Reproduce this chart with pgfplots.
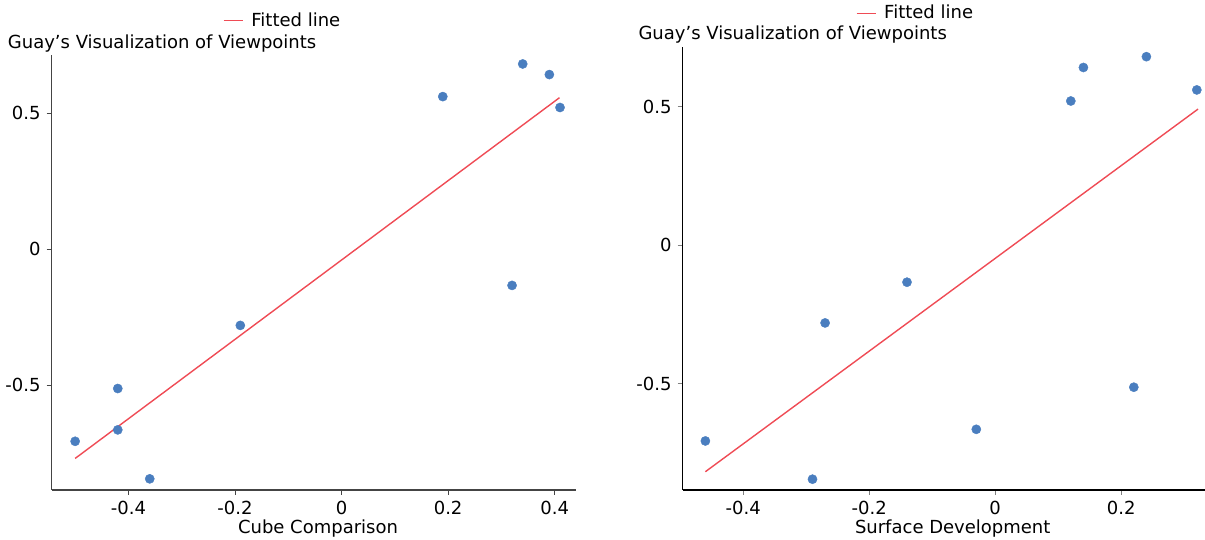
\documentclass[border=0pt]{standalone}
\usepackage{fontspec}
\setmainfont{DejaVu Sans}
\usepackage{pgfplots}
\pgfplotsset{compat=1.18}
\definecolor{ptblue}{HTML}{4A7EBF}
\definecolor{fitred}{HTML}{EF4B55}
\definecolor{axgray}{HTML}{444444}
\begin{document}
\fontsize{18}{21}\selectfont
\begin{tikzpicture}
\useasboundingbox (0,0) rectangle (1205pt,540pt);
\pgfplotsset{
  myax/.style={
    scale only axis,
    anchor=south west,
    axis lines*=left,
    axis line style={-, line width=1.2pt},
    tick align=outside,
    major tick length=5pt,
    tick style={line width=0.8pt},
    ticklabel style={font=\fontsize{18}{21}\selectfont},
    label style={font=\fontsize{18}{21}\selectfont},
    ytick={-0.5,0,0.5},
    yticklabels={-0.5,0,0.5},
    clip=false,
    legend image code/.code={\draw[#1] (0pt,0pt) -- (19pt,0pt);},
    legend style={draw=none, fill=none, inner sep=0pt, outer sep=0pt,
      font=\fontsize{18}{21}\selectfont,
      /tikz/every odd column/.append style={column sep=6pt}},
  },
  pts/.style={only marks, mark=*, mark size=4.6pt, color=ptblue, mark options={draw=ptblue, fill=ptblue}},
  fit/.style={no marks, color=fitred, line width=1.4pt},
}
% Left panel
\begin{axis}[myax,
  at={(51.7pt,50pt)}, width=524.3pt, height=435pt,
  xmin=-0.544, xmax=0.44, ymin=-0.886, ymax=0.713,
  axis line style={-, line width=1.5pt, draw=axgray},
  tick style={draw=axgray},
  xtick={-0.4,-0.2,0,0.2,0.4},
  xticklabels={-0.4,-0.2,0,0.2,0.4},
  xlabel={Cube Comparison},
  xlabel style={at={(axis description cs:0.508,-0.1)}, anchor=base},
  legend style={at={(axis description cs:0.3267,1.079)}, anchor=west},
]
\addplot[pts, forget plot] coordinates {
(-0.50,-0.707) (-0.42,-0.513) (-0.42,-0.665) (-0.36,-0.845) (-0.19,-0.281)
(0.32,-0.134) (0.19,0.56) (0.34,0.68) (0.39,0.641) (0.41,0.52)
};
\addplot[fit] coordinates {(-0.50,-0.770) (0.409,0.556)};
\addlegendentry{Fitted line}
\end{axis}
% Right panel
\begin{axis}[myax,
  at={(682.7pt,50pt)}, width=522.3pt, height=443.3pt,
  xmin=-0.496, xmax=0.333, ymin=-0.884, ymax=0.716,
  axis line style={-, line width=1.2pt, draw=black},
  xtick={-0.4,-0.2,0,0.2},
  xticklabels={-0.4,-0.2,0,0.2},
  xlabel={Surface Development},
  xlabel style={at={(axis description cs:0.517,-0.098)}, anchor=base},
  legend style={at={(axis description cs:0.3315,1.0752)}, anchor=west},
]
\addplot[pts, forget plot] coordinates {
(0.12,0.52) (0.14,0.641) (0.24,0.68) (0.32,0.56) (-0.14,-0.134)
(-0.27,-0.281) (-0.46,-0.707) (-0.29,-0.845) (-0.03,-0.665) (0.22,-0.513)
};
\addplot[fit] coordinates {(-0.46,-0.818) (0.322,0.491)};
\addlegendentry{Fitted line}
\end{axis}
\node[anchor=base west, inner sep=0pt] at (7.7pt,491.8pt) {Guay’s Visualization of Viewpoints};
\node[anchor=base west, inner sep=0pt] at (638.3pt,500.2pt) {Guay’s Visualization of Viewpoints};
\end{tikzpicture}
\end{document}
